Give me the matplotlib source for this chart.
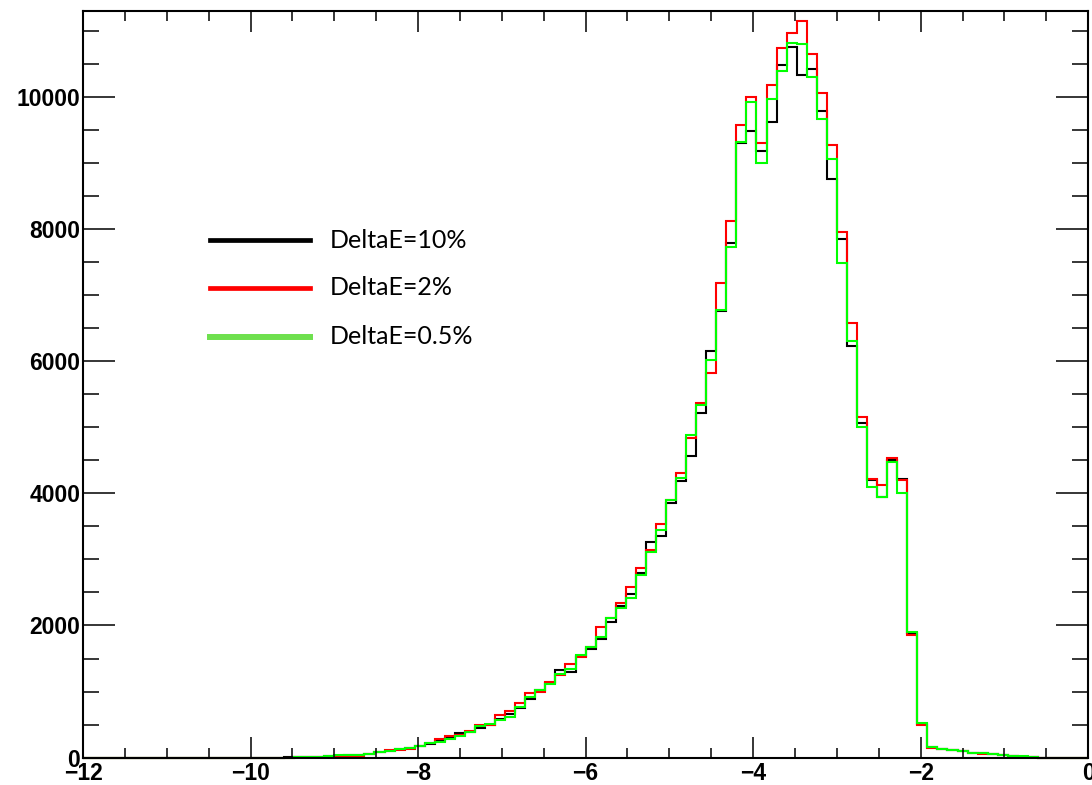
import numpy as np
import matplotlib.pyplot as plt
from matplotlib.ticker import MultipleLocator
from matplotlib.lines import Line2D

# binning: 100 bins between -12 and 0
n_bins = 100
x_lo, x_hi = -12.0, 0.0

# bin contents, one list per energy resolution
counts_10 = [
    0, 0, 0, 0, 0, 0, 0, 0, 0, 0,
    0, 0, 0, 0, 0, 0, 0, 0, 0, 0,
    5, 15, 15, 10, 20, 30, 35, 40, 55, 80,
    95, 130, 150, 175, 210, 250, 290, 370, 390, 450,
    500, 590, 660, 755, 880, 1020, 1130, 1330, 1300, 1540,
    1640, 1790, 2060, 2290, 2480, 2800, 3270, 3360, 3850, 4190,
    4570, 5215, 6160, 6770, 7790, 9310, 9490, 9190, 9630, 10490,
    10770, 10340, 10430, 9800, 8760, 7855, 6240, 5060, 4200, 3950,
    4500, 4215, 1890, 510, 154, 130, 115, 95, 75, 65,
    55, 38, 25, 15, 8, 0, 0, 0, 0, 0,
]
counts_2 = [
    0, 0, 0, 0, 0, 0, 0, 0, 0, 0,
    0, 0, 0, 0, 0, 0, 0, 0, 0, 0,
    0, 5, 8, 10, 15, 25, 25, 30, 50, 85,
    120, 110, 125, 180, 220, 275, 320, 335, 400, 500,
    490, 645, 700, 820, 970, 1000, 1150, 1250, 1420, 1525,
    1680, 1970, 2110, 2336, 2578, 2876, 3150, 3540, 3900, 4305,
    4836, 5366, 5820, 7193, 8133, 9582, 10011, 9314, 10188, 10744,
    10981, 11158, 10653, 10072, 9279, 7957, 6587, 5154, 4215, 4128,
    4542, 4204, 1856, 492, 150, 130, 115, 95, 70, 51,
    55, 35, 28, 15, 10, 0, 0, 0, 0, 0,
]
counts_05 = [
    0, 0, 0, 0, 0, 0, 0, 0, 0, 0,
    0, 0, 0, 0, 0, 0, 0, 0, 0, 0,
    0, 5, 8, 10, 20, 35, 40, 45, 60, 90,
    100, 135, 150, 170, 215, 240, 280, 325, 390, 470,
    515, 570, 620, 770, 920, 1022, 1120, 1270, 1348, 1550,
    1680, 1830, 2108, 2260, 2411, 2765, 3118, 3447, 3902, 4240,
    4886, 5340, 6022, 6780, 7739, 9330, 9926, 9002, 9971, 10405,
    10820, 10805, 10314, 9673, 9067, 7487, 6315, 5002, 4093, 3942,
    4481, 4002, 1906, 518, 164, 136, 121, 97, 76, 71,
    60, 38, 28, 18, 8, 0, 0, 0, 0, 0,
]

labels = ['DeltaE=10%', 'DeltaE=2%', 'DeltaE=0.5%']
hist_colors = ['#000000', '#ff0000', '#00ff00']
legend_colors = ['#000000', '#ff0000', '#6ee04e']

edges = np.linspace(x_lo, x_hi, n_bins + 1)

fig = plt.figure(figsize=(10.92, 7.85), dpi=100)
ax = fig.add_axes([0.076, 0.035, 0.9205, 0.951])

for vals, col in zip([counts_10, counts_2, counts_05], hist_colors):
    ax.stairs(vals, edges, color=col, linewidth=1.5, clip_on=False)

ax.set_xlim(x_lo, x_hi)
ax.set_ylim(0, 1.05 * max(counts_10))

ax.xaxis.set_major_locator(MultipleLocator(2))
ax.xaxis.set_minor_locator(MultipleLocator(0.5))
ax.yaxis.set_major_locator(MultipleLocator(2000))
ax.yaxis.set_minor_locator(MultipleLocator(500))

ax.tick_params(axis='both', which='both', direction='in', width=1.1,
               top=True, right=True)
ax.tick_params(axis='x', which='major', length=15, pad=3)
ax.tick_params(axis='x', which='minor', length=7.5)
ax.tick_params(axis='y', which='major', length=23, pad=2)
ax.tick_params(axis='y', which='minor', length=11.5)

for lab in ax.get_xticklabels() + ax.get_yticklabels():
    lab.set_fontfamily('Liberation Sans')
    lab.set_fontweight('bold')
    lab.set_fontsize(16.5)

for sp in ax.spines.values():
    sp.set_linewidth(1.5)

# hand placed legend (figure pixel positions)
W, H = 1092.0, 785.0
rows_y = [240, 288, 337]
line_w = [3.4, 3.4, 4.3]
for lab, col, yy, lw in zip(labels, legend_colors, rows_y, line_w):
    fy = 1 - yy / H
    fig.add_artist(Line2D([210 / W, 310 / W], [fy, fy], color=col,
                          linewidth=lw, transform=fig.transFigure))
    fig.text(330 / W, fy, lab, fontsize=18, family='Lato',
             va='center', ha='left')

fig.savefig('out.png', dpi=100)
